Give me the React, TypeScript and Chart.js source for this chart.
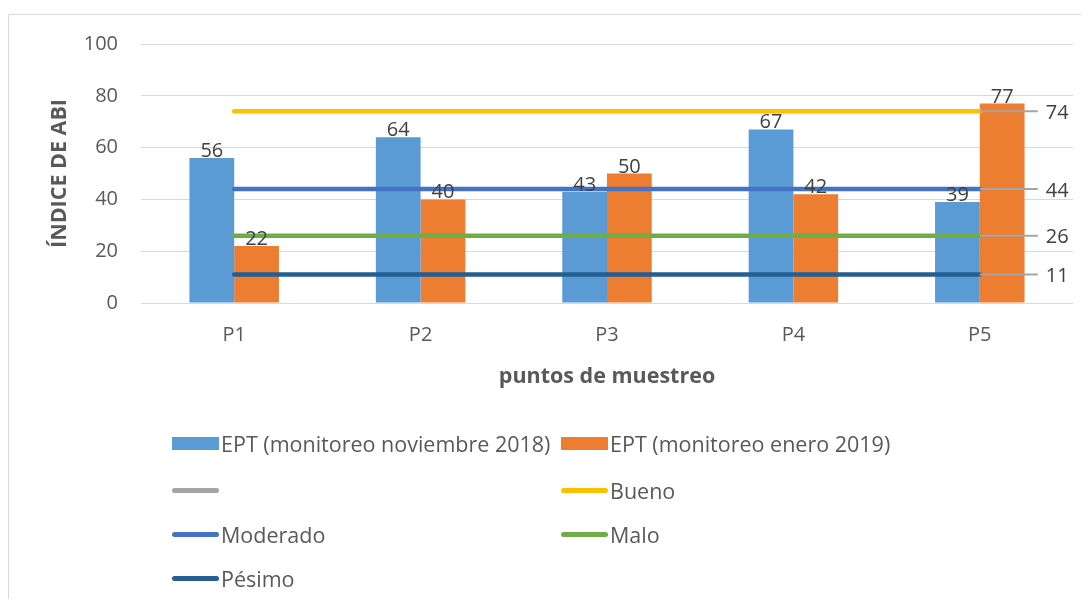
import React, { useEffect, useRef } from 'react';
import { Chart, registerables } from 'chart.js';

Chart.register(...registerables);

const categories = ['P1', 'P2', 'P3', 'P4', 'P5'];
const seriesNov = [56, 64, 43, 67, 39];
const seriesEne = [22, 40, 50, 42, 77];
const blankSeries: (number | null)[] = [null, null, null, null, null];
const buenoLine = [74, 74, 74, 74, 74];
const moderadoLine = [44, 44, 44, 44, 44];
const maloLine = [26, 26, 26, 26, 26];
const pesimoLine = [11, 11, 11, 11, 11];
const yTickValues = [0, 20, 40, 60, 80, 100];

const seriesNames = [
  'EPT (monitoreo noviembre 2018)',
  'EPT (monitoreo enero 2019)',
  '',
  'Bueno',
  'Moderado',
  'Malo',
  'Pésimo',
];
const seriesColors = ['#5B9BD5', '#ED7D31', '#A5A5A5', '#FFC000', '#4472C4', '#70AD47', '#255E91'];

const yTitle = 'ÍNDICE DE ABI';
const xTitle = 'puntos de muestreo';

const FONT = "'Open Sans', sans-serif";
const W = 1073;
const H = 591;

const decorPlugin = {
  id: 'decor',
  beforeDraw(chart: any) {
    const ctx = chart.ctx;
    ctx.save();
    ctx.fillStyle = '#ffffff';
    ctx.fillRect(0, 0, chart.width, chart.height);
    ctx.strokeStyle = '#D9D9D9';
    ctx.lineWidth = 1;
    ctx.beginPath();
    ctx.moveTo(0.5, chart.height);
    ctx.lineTo(0.5, 6.5);
    ctx.lineTo(chart.width, 6.5);
    ctx.stroke();
    ctx.restore();
  },
  afterDatasetsDraw(chart: any) {
    const ctx = chart.ctx;
    ctx.save();
    ctx.font = `20px ${FONT}`;
    chart.data.datasets.forEach((ds: any, i: number) => {
      const meta = chart.getDatasetMeta(i);
      if (meta.type === 'bar') {
        ctx.fillStyle = '#404040';
        ctx.textAlign = 'center';
        ctx.textBaseline = 'alphabetic';
        meta.data.forEach((el: any, j: number) => {
          ctx.fillText(String(ds.data[j]), el.x, el.y - 1);
        });
      } else if (ds.endLabel) {
        const last = meta.data[meta.data.length - 1];
        if (!last) return;
        ctx.strokeStyle = '#A5A5A5';
        ctx.lineWidth = 2;
        ctx.beginPath();
        ctx.moveTo(last.x, last.y);
        ctx.lineTo(last.x + 58, last.y);
        ctx.stroke();
        ctx.fillStyle = '#404040';
        ctx.textAlign = 'left';
        ctx.textBaseline = 'middle';
        ctx.fillText(String(ds.data[ds.data.length - 1]), last.x + 66, last.y + 2);
      }
    });
    ctx.restore();
  },
};

const legendRows = [
  [0, 1],
  [2, 3],
  [4, 5],
  [6],
];

export default function App() {
  const ref = useRef<HTMLCanvasElement>(null);

  useEffect(() => {
    if (!ref.current) return;
    const lineDs = (idx: number, data: number[] | (number | null)[], endLabel: boolean) => ({
      type: 'line' as const,
      label: seriesNames[idx],
      data,
      borderColor: seriesColors[idx],
      backgroundColor: seriesColors[idx],
      borderWidth: 4.5,
      borderCapStyle: 'round',
      pointRadius: 0,
      pointHoverRadius: 0,
      fill: false,
      order: 1,
      endLabel,
    });
    const chart = new Chart(ref.current, {
      type: 'bar',
      data: {
        labels: categories,
        datasets: [
          {
            type: 'bar',
            label: seriesNames[0],
            data: seriesNov,
            backgroundColor: seriesColors[0],
            categoryPercentage: 0.48,
            barPercentage: 1,
            order: 2,
          },
          {
            type: 'bar',
            label: seriesNames[1],
            data: seriesEne,
            backgroundColor: seriesColors[1],
            categoryPercentage: 0.48,
            barPercentage: 1,
            order: 2,
          },
          lineDs(2, blankSeries, false),
          lineDs(3, buenoLine, true),
          lineDs(4, moderadoLine, true),
          lineDs(5, maloLine, true),
          lineDs(6, pesimoLine, true),
        ] as any,
      },
      options: {
        responsive: false,
        animation: false,
        devicePixelRatio: 1,
        layout: { padding: { left: 0, right: 8, top: 36, bottom: 196 } },
        plugins: {
          legend: { display: false },
          tooltip: { enabled: false },
        },
        scales: {
          x: {
            grid: { display: false, drawTicks: false },
            border: { display: false },
            ticks: { color: '#595959', font: { family: FONT, size: 20 }, padding: 20 },
            title: {
              display: true,
              text: xTitle,
              color: '#595959',
              font: { family: FONT, size: 21.5, weight: 'bold' },
              padding: { top: 0, bottom: 13 },
            },
            afterFit: (s: any) => {
              s.height = 100;
            },
          },
          y: {
            min: 0,
            max: 100,
            afterBuildTicks: (s: any) => {
              s.ticks = yTickValues.map((v) => ({ value: v }));
            },
            grid: { color: '#D9D9D9', lineWidth: 1, drawTicks: false },
            border: { display: false },
            ticks: { color: '#595959', font: { family: FONT, size: 20 }, padding: 23 },
            title: {
              display: true,
              text: yTitle,
              color: '#595959',
              font: { family: FONT, size: 21.5, weight: 'bold' },
              padding: { top: 39, bottom: 0 },
            },
            afterFit: (s: any) => {
              s.width = 133;
            },
          },
        },
      } as any,
      plugins: [decorPlugin],
    });
    return () => chart.destroy();
  }, []);

  const rowTops = [435, 482, 526, 570];
  const colLefts = [164, 553];

  return (
    <div style={{ position: 'relative', width: W, height: H, overflow: 'hidden' }}>
      <canvas ref={ref} width={W} height={H} style={{ display: 'block' }} />
      {legendRows.map((row, r) =>
        row.map((idx, c) => {
          const isBar = idx < 2;
          return (
            <div
              key={`${r}-${c}`}
              style={{
                position: 'absolute',
                left: colLefts[c],
                top: rowTops[r] - 15,
                height: 30,
                display: 'flex',
                alignItems: 'center',
                fontFamily: FONT,
                fontSize: 21.5,
                color: '#595959',
                whiteSpace: 'nowrap',
              }}
            >
              <span
                style={{
                  display: 'inline-block',
                  width: 47,
                  height: isBar ? 13 : 5,
                  borderRadius: isBar ? 0 : 3,
                  background: seriesColors[idx],
                  marginRight: 2,
                }}
              />
              <span>{seriesNames[idx]}</span>
            </div>
          );
        })
      )}
    </div>
  );
}
